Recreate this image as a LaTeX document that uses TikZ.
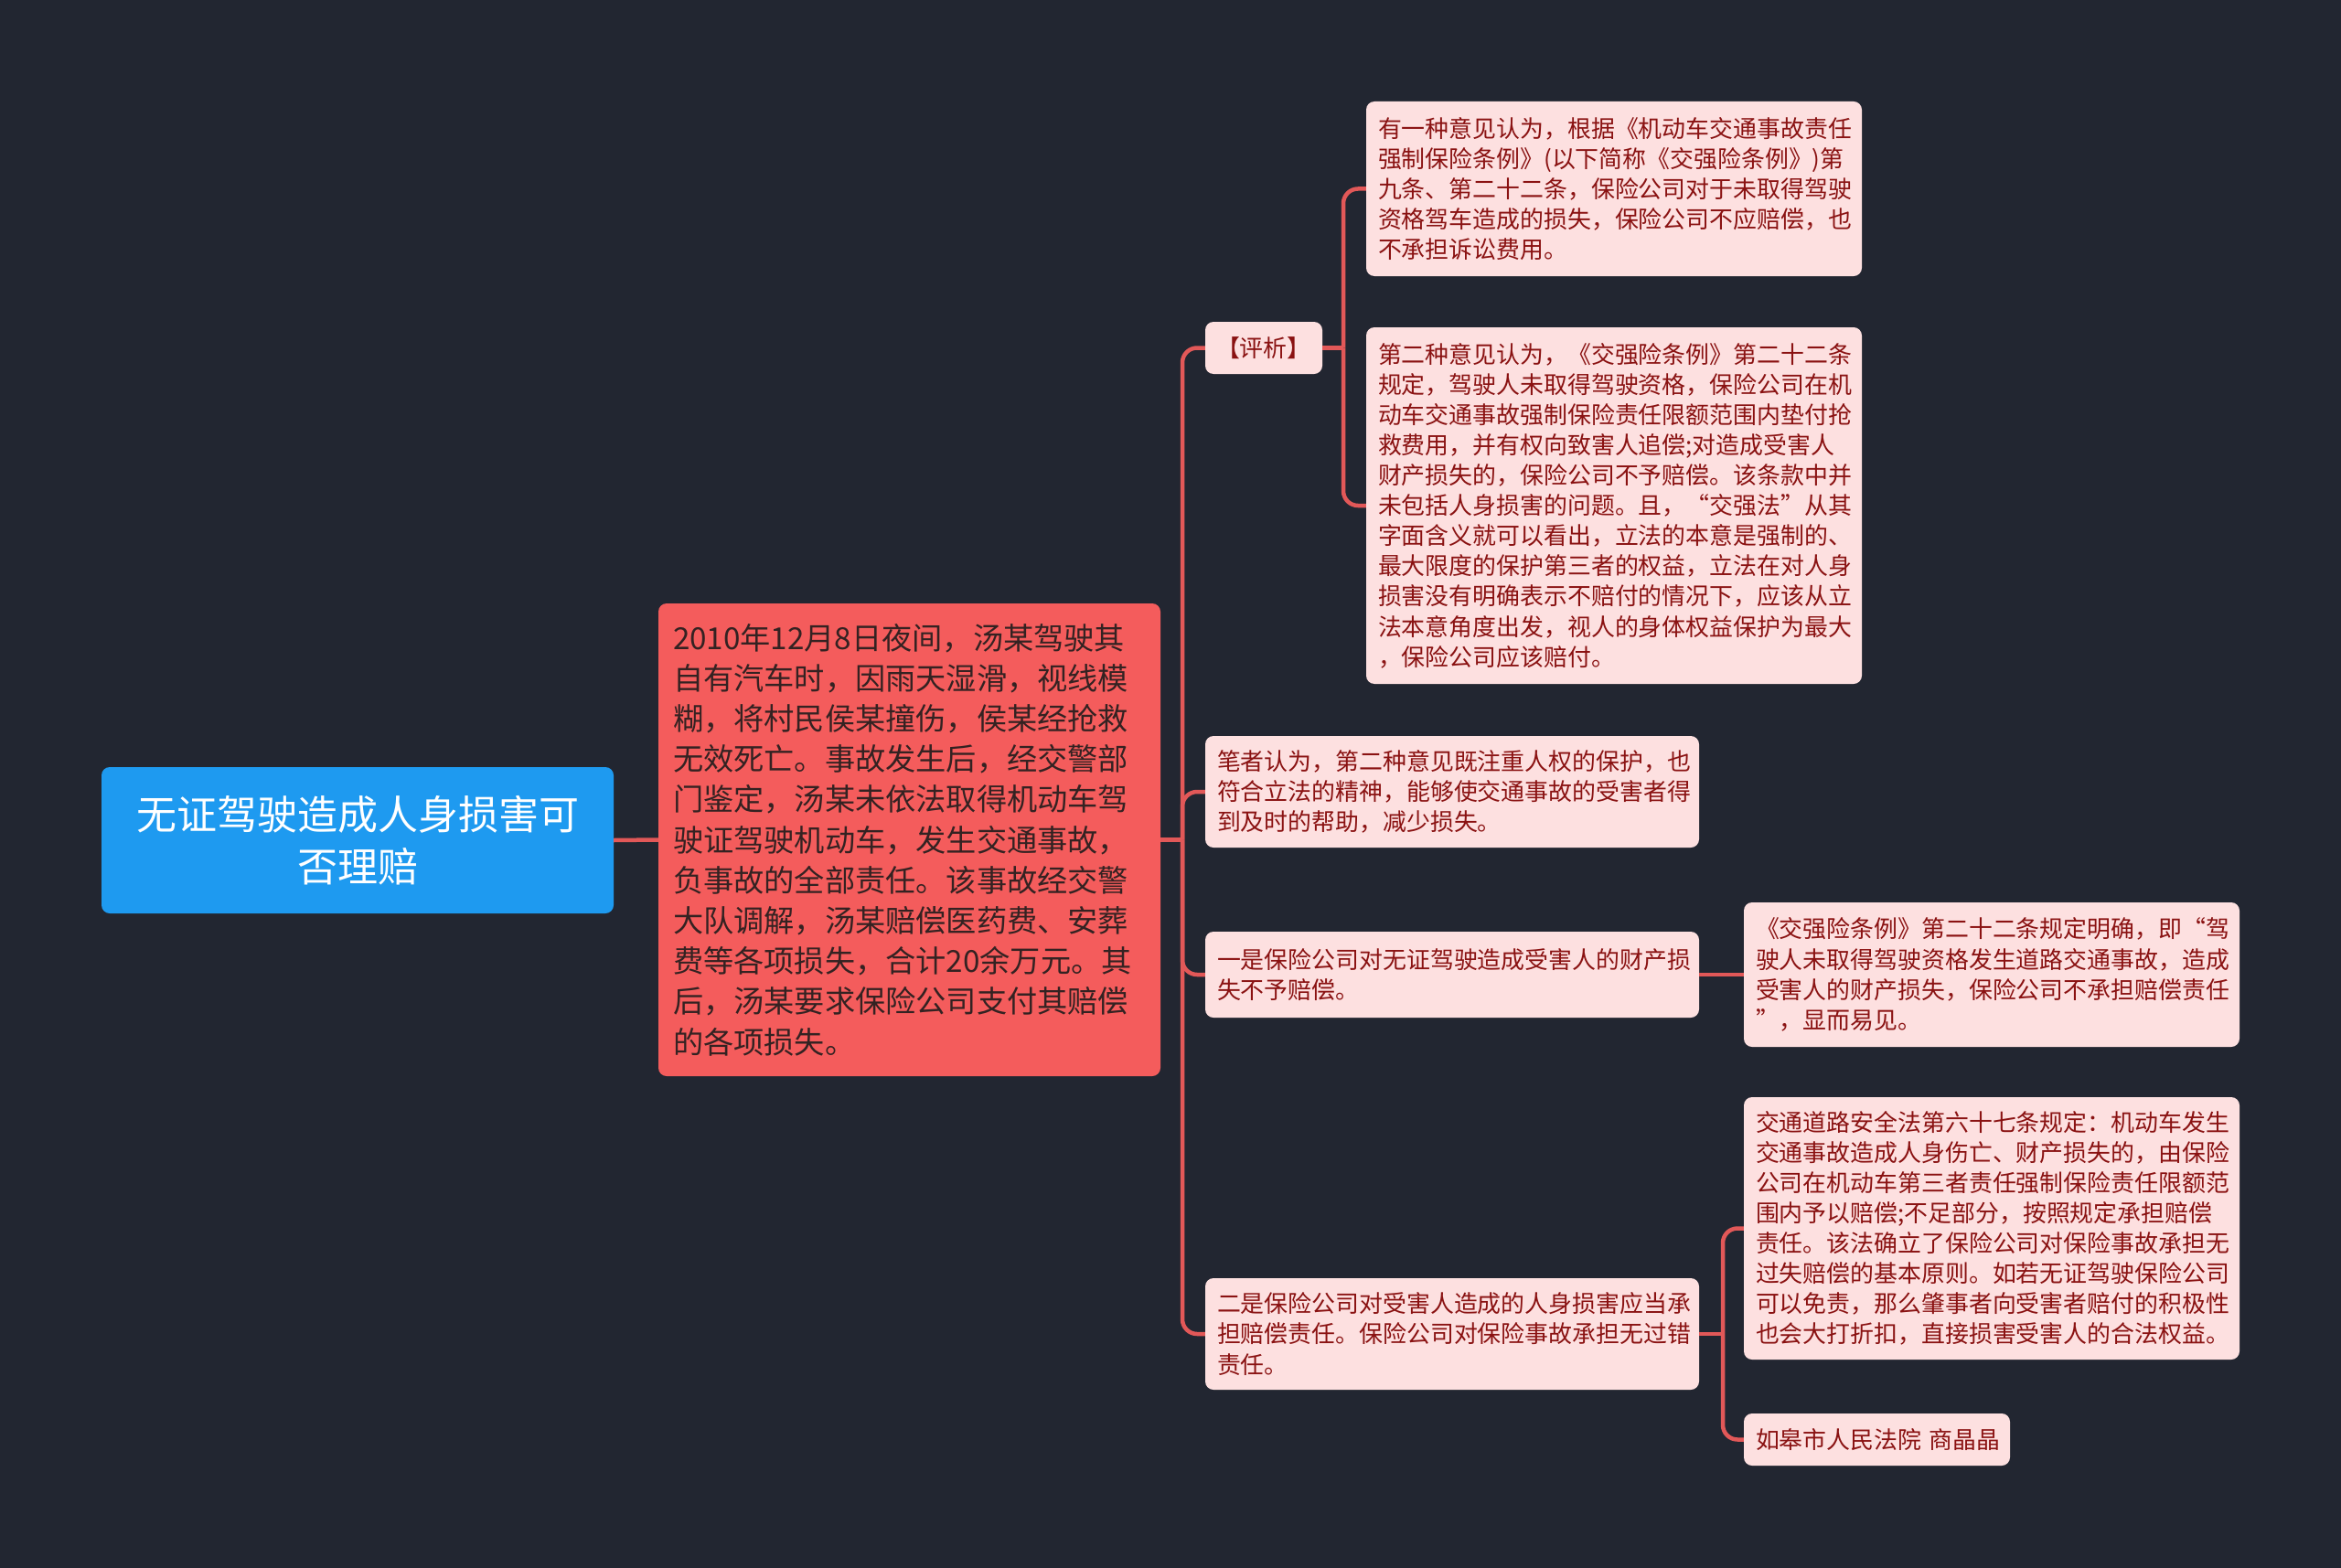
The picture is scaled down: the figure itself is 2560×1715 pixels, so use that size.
\documentclass[tikz,border=0pt]{standalone}
\usepackage{fontspec}
\newfontfamily\cjk{Noto Sans CJK SC}
\definecolor{bgc}{RGB}{34,38,49}
\definecolor{rootc}{RGB}{30,154,240}
\definecolor{midc}{RGB}{244,92,92}
\definecolor{midtext}{RGB}{52,34,34}
\definecolor{pinkc}{RGB}{253,224,224}
\definecolor{pinktext}{RGB}{138,18,18}
\definecolor{connc}{RGB}{226,88,88}
\tikzset{
  rootbox/.style={fill=rootc, rounded corners=9pt, text=white, align=center,
    font=\cjk\fontsize{44}{57}\selectfont, inner xsep=0pt, inner ysep=0pt},
  midbox/.style={fill=midc, rounded corners=9pt, text=midtext, align=left,
    font=\cjk\fontsize{33.2}{44.2}\selectfont, inner xsep=16pt, inner ysep=0pt},
  pinkbox/.style={fill=pinkc, rounded corners=9pt, text=pinktext, align=left,
    font=\cjk\fontsize{25.9}{33.1}\selectfont, inner xsep=13pt, inner ysep=0pt},
  conn/.style={draw=connc, line width=4.5pt, rounded corners=16pt},
}
\begin{document}
\begin{tikzpicture}[x=1pt,y=-1pt]
\fill[bgc] (0,0) rectangle (2560,1715);
\useasboundingbox (0,0) rectangle (2560,1715);

\node[rootbox, text width=560pt, minimum height=160pt] (root) at (391,919)
  {无证驾驶造成人身损害可\\否理赔};

\node[midbox, text width=517pt, minimum height=517pt] (mid) at (994.5,918.5)
  {2010年12月8日夜间，汤某驾驶其\\自有汽车时，因雨天湿滑，视线模\\糊，将村民侯某撞伤，侯某经抢救\\无效死亡。事故发生后，经交警部\\门鉴定，汤某未依法取得机动车驾\\驶证驾驶机动车，发生交通事故，\\负事故的全部责任。该事故经交警\\大队调解，汤某赔偿医药费、安葬\\费等各项损失，合计20余万元。其\\后，汤某要求保险公司支付其赔偿\\的各项损失。};

\node[pinkbox, text width=104pt, inner xsep=12pt, minimum height=57pt] (pj) at (1382,380.5)
  {【评析】};

\node[pinkbox, text width=516pt, minimum height=191pt] (b1) at (1765,206.5)
  {有一种意见认为，根据《机动车交通事故责任\\强制保险条例》(以下简称《交强险条例》)第\\九条、第二十二条，保险公司对于未取得驾驶\\资格驾车造成的损失，保险公司不应赔偿，也\\不承担诉讼费用。};

\node[pinkbox, text width=516pt, minimum height=390pt] (b2) at (1765,553)
  {第二种意见认为，《交强险条例》第二十二条\\规定，驾驶人未取得驾驶资格，保险公司在机\\动车交通事故强制保险责任限额范围内垫付抢\\救费用，并有权向致害人追偿;对造成受害人\\财产损失的，保险公司不予赔偿。该条款中并\\未包括人身损害的问题。且，“交强法”从其\\字面含义就可以看出，立法的本意是强制的、\\最大限度的保护第三者的权益，立法在对人身\\损害没有明确表示不赔付的情况下，应该从立\\法本意角度出发，视人的身体权益保护为最大\\，保险公司应该赔付。};

\node[pinkbox, text width=514pt, minimum height=122pt] (bz) at (1588,866)
  {笔者认为，第二种意见既注重人权的保护，也\\符合立法的精神，能够使交通事故的受害者得\\到及时的帮助，减少损失。};

\node[pinkbox, text width=514pt, minimum height=94pt] (yi) at (1588,1066)
  {一是保险公司对无证驾驶造成受害人的财产损\\失不予赔偿。};

\node[pinkbox, text width=516pt, minimum height=158pt] (jq) at (2178,1066)
  {《交强险条例》第二十二条规定明确，即“驾\\驶人未取得驾驶资格发生道路交通事故，造成\\受害人的财产损失，保险公司不承担赔偿责任\\”，显而易见。};

\node[pinkbox, text width=514pt, minimum height=122pt] (er) at (1588,1459)
  {二是保险公司对受害人造成的人身损害应当承\\担赔偿责任。保险公司对保险事故承担无过错\\责任。};

\node[pinkbox, text width=516pt, minimum height=287pt] (jt) at (2178,1343.5)
  {交通道路安全法第六十七条规定：机动车发生\\交通事故造成人身伤亡、财产损失的，由保险\\公司在机动车第三者责任强制保险责任限额范\\围内予以赔偿;不足部分，按照规定承担赔偿\\责任。该法确立了保险公司对保险事故承担无\\过失赔偿的基本原则。如若无证驾驶保险公司\\可以免责，那么肇事者向受害者赔付的积极性\\也会大打折扣，直接损害受害人的合法权益。};

\node[pinkbox, text width=265pt, minimum height=57pt] (rg) at (2052.5,1574.5)
  {\mbox{如皋市人民法院 商晶晶}};

% connectors
\coordinate (t1) at (1293,918.5);
\coordinate (t2) at (1469,380.5);
\coordinate (t3) at (1884,1459);
\draw[conn] (root.east) -- (mid.west);
\draw[conn] (mid.east) -- (t1);
\draw[conn] (t1) |- (pj.west);
\draw[conn] (t1) |- (bz.west);
\draw[conn] (t1) |- (yi.west);
\draw[conn] (t1) |- (er.west);
\draw[conn] (pj.east) -- (t2);
\draw[conn] (t2) |- (b1.west);
\draw[conn] (t2) |- (b2.west);
\draw[conn] (yi.east) -- (jq.west);
\draw[conn] (er.east) -- (t3);
\draw[conn] (t3) |- (jt.west);
\draw[conn] (t3) |- (rg.west);
\end{tikzpicture}
\end{document}
